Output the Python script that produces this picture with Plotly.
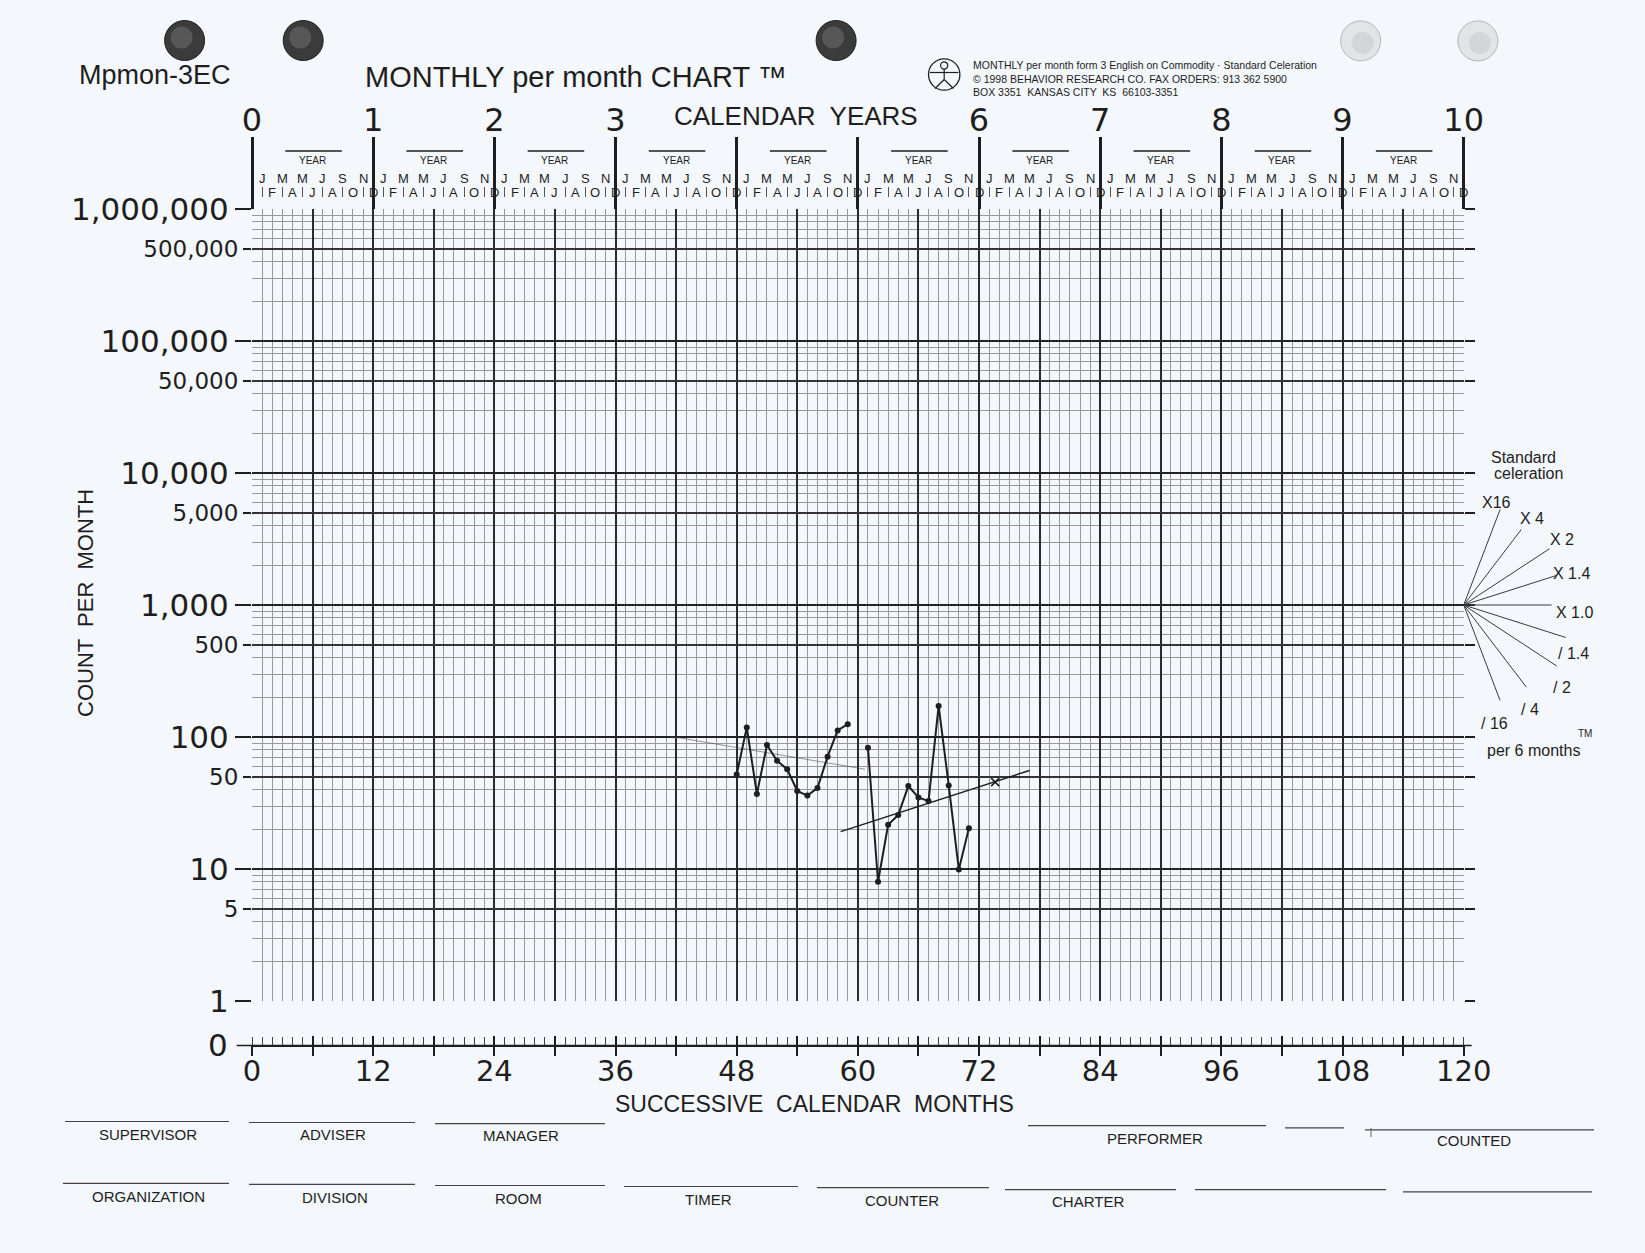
import plotly.graph_objects as go

W, H = 1645, 1253

# ---- data ----
months_a = [48, 49, 50, 51, 52, 53, 54, 55, 56, 57, 58, 59]
counts_a = [52, 118, 37, 87, 66, 57, 39, 36, 41, 71, 112, 125]
months_b = [61, 62, 63, 64, 65, 66, 67, 68, 69, 70, 71]
counts_b = [83, 8, 21.6, 25.7, 42.5, 34.8, 32.7, 172, 43, 9.9, 20.4]

cel_a_months = [41.5, 60.7]      # faint celeration line, first phase
cel_a_counts = [101, 57]
cel_b_months = [58.3, 77.0]      # celeration line, second phase
cel_b_counts = [19.2, 55.8]
mark_months = [73.6]
mark_counts = [45.5]

month_ticks = list(range(0, 121, 6))
month_labels = [str(m) if m % 12 == 0 else "" for m in month_ticks]
year_ticks = list(range(0, 121, 12))
year_labels = ["0", "1", "2", "3", "", "", "6", "7", "8", "9", "10"]
month_letters = ["J", "F", "M", "A", "M", "J", "J", "A", "S", "O", "N", "D"]

decade_vals = [1, 10, 100, 1000, 10000, 100000, 1000000]
decade_labels = ["1", "10", "100", "1,000", "10,000", "100,000", "1,000,000"]
five_vals = [5, 50, 500, 5000, 50000, 500000]
five_labels = ["5", "50", "500", "5,000", "50,000", "500,000"]
minor_vals = [k * 10 ** d for d in range(6) for k in (2, 3, 4, 6, 7, 8, 9)]

fan_mult = [16, 4, 2, 1.4, 1.0, 1 / 1.4, 1 / 2, 1 / 4, 1 / 16]
fan_span = [3.6, 5.7, 8.5, 9.2, 8.7, 10.1, 9.2, 6.2, 3.6]
fan_labels = ["X16", "X 4", "X 2", "X 1.4", "X 1.0", "/ 1.4", "/ 2", "/ 4", "/ 16"]
fan_label_pos = [(1496, 502), (1532, 518), (1562, 539), (1571, 573), (1574, 612),
                 (1573, 653), (1562, 687), (1530, 709), (1494, 723)]

INK = "#1e1e1e"
THIN = "#999999"
BG = "#f4f7fc"
NUM = "DejaVu Sans"
SANS = "Liberation Sans, Arial, sans-serif"


def px(x):
    return x / W


def py(y):
    return 1 - y / H


X0, X1, XF = px(252), px(1463.7), px(1584.9)
Y0, Y1 = py(1001), py(209)

fig = go.Figure()

fig.add_trace(go.Scatter(x=cel_a_months, y=cel_a_counts, mode="lines",
                         line=dict(color="rgba(70,70,70,0.55)", width=1), hoverinfo="skip"))
fig.add_trace(go.Scatter(x=cel_b_months, y=cel_b_counts, mode="lines",
                         line=dict(color=INK, width=1.5), hoverinfo="skip"))
fig.add_trace(go.Scatter(x=months_a, y=counts_a, mode="lines+markers",
                         line=dict(color=INK, width=2), marker=dict(color=INK, size=6)))
fig.add_trace(go.Scatter(x=months_b, y=counts_b, mode="lines+markers",
                         line=dict(color=INK, width=2), marker=dict(color=INK, size=6)))
fig.add_trace(go.Scatter(x=mark_months, y=mark_counts, mode="markers",
                         marker=dict(symbol="x-thin", size=8, line=dict(color=INK, width=1.5))))

# empty traces so the overlay axes get drawn
for xa, ya in [("x3", "y"), ("x4", "y"), ("x5", "y"), ("x", "y2"), ("x", "y3")]:
    fig.add_trace(go.Scatter(x=[], y=[], xaxis=xa, yaxis=ya, hoverinfo="skip"))

# standard celeration fan (per 6 months), starting at month 120, count 1000
for mult, span in zip(fan_mult, fan_span):
    fig.add_trace(go.Scatter(x=[120, 120 + span], y=[1000, 1000 * mult ** (span / 6)],
                             mode="lines", line=dict(color="#3a3a3a", width=1),
                             xaxis="x6", yaxis="y6", hoverinfo="skip"))

fig.update_layout(
    width=W, height=H, showlegend=False,
    paper_bgcolor=BG, plot_bgcolor=BG,
    margin=dict(l=0, r=0, t=0, b=0, autoexpand=False),
    font=dict(family=SANS, color=INK),
    xaxis=dict(
        domain=[X0, X1], range=[0, 120], anchor="free", position=py(1045.5),
        showline=True, linecolor=INK, linewidth=1.5, zeroline=False,
        tickmode="array", tickvals=month_ticks, ticktext=month_labels,
        ticks="outside", ticklen=10, tickwidth=2, tickcolor=INK, ticklabelstandoff=-10,
        tickfont=dict(family=NUM, size=29, color=INK),
        showgrid=True, gridcolor="#2b2b2b", gridwidth=2, automargin=False,
        minor=dict(tickmode="linear", tick0=0, dtick=1, ticks="inside", ticklen=8,
                   tickwidth=1, tickcolor="#444", showgrid=True, gridcolor=THIN, gridwidth=1),
    ),
    xaxis3=dict(
        overlaying="x", domain=[X0, X1], range=[0, 120], anchor="free", position=py(1045.5),
        tickmode="array", tickvals=month_ticks, ticks="inside", ticklen=10, tickwidth=2,
        tickcolor=INK, showticklabels=False, showgrid=False, showline=False, zeroline=False,
        automargin=False,
    ),
    xaxis4=dict(
        overlaying="x", side="top", domain=[X0, X1], range=[0, 120], anchor="free", position=Y1,
        tickmode="array", tickvals=year_ticks, ticktext=year_labels,
        ticks="outside", ticklen=72, tickwidth=2.5, tickcolor=INK, ticklabelstandoff=-7,
        tickfont=dict(family=NUM, size=32, color=INK),
        showgrid=False, showline=False, zeroline=False, automargin=False,
    ),
    xaxis5=dict(
        overlaying="x", side="top", domain=[X0, X1], range=[0, 120], anchor="free",
        position=py(197), tickmode="array", tickvals=list(range(1, 120, 2)),
        ticks="outside", ticklen=10, tickwidth=1, tickcolor="#555",
        showticklabels=False, showgrid=False, showline=False, zeroline=False, automargin=False,
    ),
    yaxis=dict(
        domain=[Y0, Y1], type="log", range=[0, 6], anchor="x", zeroline=False,
        tickmode="array", tickvals=decade_vals, ticktext=decade_labels,
        ticks="outside", ticklen=16, tickwidth=2, tickcolor=INK,
        tickfont=dict(family=NUM, size=31, color=INK),
        showgrid=True, gridcolor="#222", gridwidth=2, automargin=False,
        minor=dict(tickmode="array", tickvals=minor_vals, ticks="",
                   showgrid=True, gridcolor=THIN, gridwidth=1),
    ),
    yaxis2=dict(
        overlaying="y", domain=[Y0, Y1], type="log", range=[0, 6], anchor="x", side="left",
        tickmode="array", tickvals=five_vals, ticktext=five_labels,
        ticks="outside", ticklen=8, tickwidth=1.5, tickcolor=INK,
        tickfont=dict(family=NUM, size=23, color=INK),
        showgrid=True, gridcolor="#333", gridwidth=1.5, zeroline=False, automargin=False,
    ),
    yaxis3=dict(
        overlaying="y", domain=[Y0, Y1], type="log", range=[0, 6], anchor="x", side="right",
        tickmode="array", tickvals=decade_vals + five_vals,
        ticks="outside", ticklen=10, tickwidth=2, tickcolor=INK,
        showticklabels=False, showgrid=False, zeroline=False, automargin=False,
    ),
    xaxis6=dict(domain=[X1, XF], range=[120, 132], anchor="y6", visible=False),
    yaxis6=dict(domain=[Y0, Y1], type="log", range=[0, 6], anchor="x6", visible=False),
)

ann = []


def text(x, y, s, size, family=SANS, **kw):
    kw.setdefault("xanchor", "center")
    kw.setdefault("yanchor", "middle")
    ann.append(dict(x=px(x), y=py(y), xref="paper", yref="paper", text=s, showarrow=False,
                    font=dict(family=family, size=size, color=INK), **kw))


# header
text(155, 75, "Mpmon-3EC", 27)
text(576, 77, "MONTHLY per month CHART \u2122", 29)
text(971, 78, "MONTHLY per month form 3 English on Commodity \u00b7 Standard Celeration<br>"
     "\u00a9 1998 BEHAVIOR RESEARCH CO. FAX ORDERS: 913 362 5900<br>"
     "BOX 3351  KANSAS CITY  KS  66103-3351", 10.5, xanchor="left", align="left")
text(796, 116, "CALENDAR  YEARS", 26)

# month letters and YEAR blanks
for m in range(1, 121):
    letter = month_letters[(m - 1) % 12]
    ann.append(dict(x=m, y=py(178 if m % 2 else 192), xref="x", yref="paper", text=letter,
                    showarrow=False, xanchor="center", yanchor="middle",
                    font=dict(family=SANS, size=13, color=INK)))
for k in range(10):
    ann.append(dict(x=12 * k + 6, y=py(160), xref="x", yref="paper", text="YEAR",
                    showarrow=False, xanchor="center", yanchor="middle",
                    font=dict(family=SANS, size=10, color=INK)))

# axis titles
text(85, 603, "COUNT  PER  MONTH", 22, textangle=-90)
text(218, 1045, "0", 31, family=NUM)
text(814, 1104, "SUCCESSIVE  CALENDAR  MONTHS", 23)

# celeration fan labels
text(1523, 457, "Standard", 16)
text(1528, 473, "celeration", 16)
for lab, (lx, ly) in zip(fan_labels, fan_label_pos):
    text(lx, ly, lab, 16)
text(1585, 733, "TM", 10)
text(1533, 750, "per 6 months", 16)

# footer labels
footer_labels = [("SUPERVISOR", 148, 1134), ("ADVISER", 333, 1134), ("MANAGER", 521, 1135),
                 ("PERFORMER", 1155, 1138), ("COUNTED", 1474, 1140),
                 ("ORGANIZATION", 148, 1196), ("DIVISION", 335, 1197), ("ROOM", 518, 1198),
                 ("TIMER", 708, 1199), ("COUNTER", 902, 1200), ("CHARTER", 1088, 1201)]
for lab, lx, ly in footer_labels:
    text(lx, ly, lab, 15)

shapes = []


def pline(x0, y0, x1, y1, w=1.2, c=INK):
    shapes.append(dict(type="line", xref="paper", yref="paper", x0=px(x0), y0=py(y0),
                       x1=px(x1), y1=py(y1), line=dict(color=c, width=w)))


def pcircle(cx, cy, r, fill, edge, w=1):
    shapes.append(dict(type="circle", xref="paper", yref="paper", x0=px(cx - r), y0=py(cy + r),
                       x1=px(cx + r), y1=py(cy - r), fillcolor=fill, line=dict(color=edge, width=w)))


# punch holes
for cx in (184.6, 303.2, 836.1):
    pcircle(cx, 40.5, 20, "#3b3b3b", "#1f1f1f", 1)
    pcircle(cx - 3, 37.5, 11, "#575757", "#575757", 0)
for cx in (1360.7, 1477.9):
    pcircle(cx, 40.9, 20, "#e2e4e8", "#b4b6ba", 1)
    pcircle(cx + 2, 43, 11, "#d3d5d9", "#d3d5d9", 0)

# logo
pcircle(944.2, 74.5, 15.7, "rgba(0,0,0,0)", INK, 1.3)
pcircle(944.2, 65.5, 3.6, "rgba(0,0,0,0)", INK, 1.2)
pline(944.2, 69, 944.2, 79.5)
pline(930, 72.5, 958.4, 72.5)
pline(944.2, 79.5, 935, 88.5)
pline(944.2, 79.5, 953.4, 88.5)

# extension of the zero line past the grid
pline(236.7, 1045.5, 1471.7, 1045.5, 1.5)

# YEAR blanks
for k in range(10):
    shapes.append(dict(type="line", xref="x", yref="paper", x0=12 * k + 3.3, x1=12 * k + 8.9,
                       y0=py(151), y1=py(151), line=dict(color=INK, width=1.3)))

# footer blanks
footer_lines = [(65, 229, 1121.5), (249, 415, 1122.5), (435, 605, 1123.6),
                (1028, 1266, 1125.7), (1285, 1344, 1127.8), (1365, 1594, 1129.9),
                (63, 229, 1183.4), (249, 415, 1184.4), (435, 605, 1185.5), (624, 798, 1186.5),
                (817, 989, 1187.6), (1005, 1176, 1189.7), (1195, 1386, 1189.7),
                (1403, 1592, 1191.8)]
for x0, x1, y in footer_lines:
    pline(x0, y, x1, y, 1.2, "#444")
pline(1371, 1128, 1371, 1137, 1, "#666")

fig.update_layout(annotations=ann, shapes=shapes)

fig.write_html("out.html", config={"displayModeBar": False},
               post_script="document.body.style.margin='0';")
